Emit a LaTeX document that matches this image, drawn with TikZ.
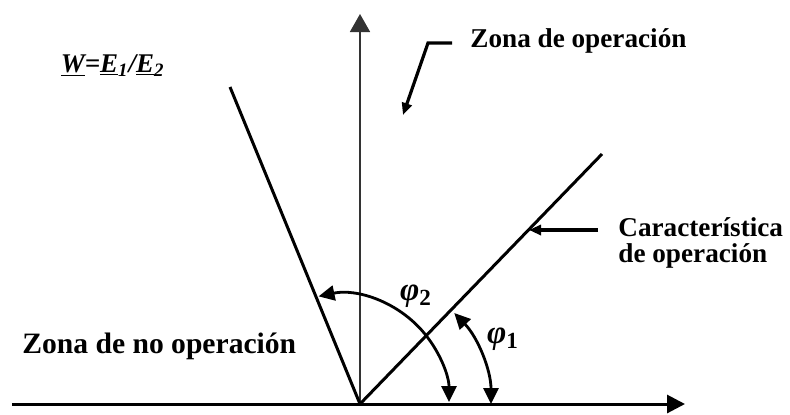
\documentclass[tikz,border=0pt]{standalone}
\usepackage{fontspec}
\setmainfont{Liberation Serif}
\usetikzlibrary{arrows.meta,calc}
\begin{document}
\begin{tikzpicture}[x=0.5pt,y=0.5pt,
  ln/.style={line width=1.5pt},
  axis/.style={line width=1.5pt,-{Triangle[length=9pt,width=9pt]}},
  vaxis/.style={line width=0.9pt,black!80,-{Triangle[length=9pt,width=10pt]}},
  ang/.style={line width=1.4pt,{Triangle[length=8pt,width=7.5pt]}-{Triangle[length=8pt,width=7.5pt]}},
  ptr/.style={line width=1.6pt,-{Triangle[length=6pt,width=5pt]}},
  lbl/.style={font=\fontsize{13.6}{16}\selectfont\bfseries,inner sep=0pt},
  philbl/.style={font=\fontsize{16.5}{18}\selectfont\bfseries\itshape,inner sep=0pt}]
\useasboundingbox (-360,-10) rectangle (430,404);
\coordinate (O) at (0,0);
\coordinate (L) at (-348,0);
\coordinate (R) at (325,0);
\coordinate (T) at (0,390);
\coordinate (A) at (-130,317);
\coordinate (B) at (242,250);
% axes
\draw[axis] (L) -- (R);
\draw[vaxis] (O) -- (T);
% lines
\draw[ln] (O) -- (A);
\draw[ln] (O) -- (B);
% angle arcs
\draw[ang] (0:131) arc[start angle=0,end angle=44,radius=131];
\draw[ang] ($(-19,2)+(102:108)$) arc[start angle=102,end angle=0,radius=108];
% labels
\node[philbl] (p2) at (56,108) {φ\textsubscript{\upshape 2}};
\node[philbl] (p1) at (143,65) {φ\textsubscript{\upshape 1}};
\node[lbl,anchor=base west] (zo) at (110,357) {Zona de operación};
\coordinate (zk) at (92,361);
\coordinate (zb) at (68,361);
\coordinate (zt) at (43,289);
\draw[ptr] (zk) -- (zb) -- (zt);
\node[lbl,font=\fontsize{14.8}{16}\selectfont\bfseries,anchor=base west] (zno) at (-338,51) {Zona de no operación};
\node[lbl,anchor=base west] (car) at (258,168) {Característica};
\node[lbl,anchor=base west] (car2) at (258,142) {de operación};
\coordinate (ck) at (238,174);
\coordinate (ct) at (169,174);
\draw[ptr] (ck) -- (ct);
\node[font=\fontsize{13.5}{15}\selectfont\bfseries\itshape,inner sep=0pt,anchor=base east] (w) at (-195,332)
  {\underline{W}=\underline{E}\textsubscript{1}/\underline{E}\textsubscript{2}};
\end{tikzpicture}
\end{document}
